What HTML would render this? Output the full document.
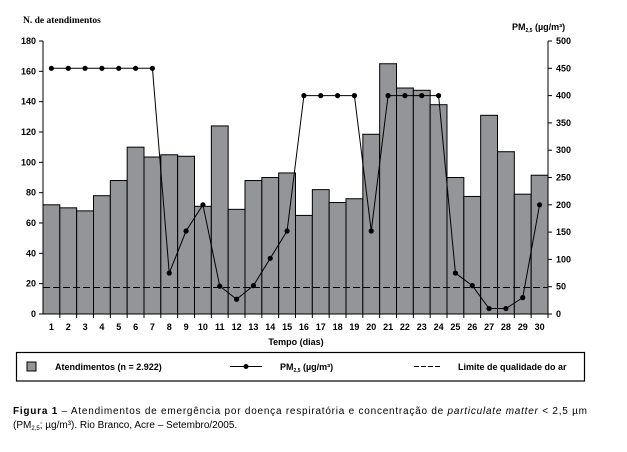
<!DOCTYPE html>
<html><head><meta charset="utf-8"><style>
body{margin:0;background:#fff;}
svg{display:block;font-family:"Liberation Sans",sans-serif;}
</style></head><body>
<svg width="627" height="452" viewBox="0 0 627 452" xmlns="http://www.w3.org/2000/svg">
<g id="bars" fill="#939598" stroke="#000" stroke-width="1"></g>
<g id="axes" stroke="#000" stroke-width="1" fill="none"></g>
<g id="txt" font-size="9" font-weight="bold" fill="#000"></g>
<line x1="43" y1="287.5" x2="548" y2="287.5" stroke="#000" stroke-width="1" stroke-dasharray="7,3"/>
<g id="pm"></g>
<text x="23" y="23" font-size="9.5" font-family="Liberation Serif,serif" font-weight="bold">N. de atendimentos</text>
<text x="512" y="30" font-size="9" font-weight="bold">PM<tspan font-size="5" dy="2">2,5</tspan><tspan dy="-2"> (µg/m³)</tspan></text>
<text x="296" y="345" font-size="9" font-weight="bold" text-anchor="middle">Tempo (dias)</text>
<rect x="16.5" y="352.5" width="568" height="28.5" fill="none" stroke="#000" stroke-width="1.2"/>
<rect x="27" y="362" width="9" height="9" fill="#939598" stroke="#000"/>
<text x="55" y="370" font-size="9" font-weight="bold">Atendimentos (n = 2.922)</text>
<line x1="230" y1="366.5" x2="262" y2="366.5" stroke="#000"/>
<circle cx="246" cy="366.5" r="2.5" fill="#000"/>
<text x="280" y="370" font-size="9" font-weight="bold">PM<tspan font-size="5" dy="2">2,5</tspan><tspan dy="-2"> (µg/m³)</tspan></text>
<line x1="414" y1="366.5" x2="440" y2="366.5" stroke="#000" stroke-dasharray="5,2"/>
<text x="458" y="370" font-size="9" font-weight="bold">Limite de qualidade do ar</text>
<text x="13" y="414" font-size="10" textLength="574" lengthAdjust="spacing"><tspan font-weight="bold">Figura 1</tspan> – Atendimentos de emergência por doença respiratória e concentração de <tspan font-style="italic">particulate matter</tspan> &lt; 2,5 µm</text>
<text x="13" y="428" font-size="10">(PM<tspan font-size="6" dy="2">2,5</tspan><tspan dy="-2">; µg/m³). Rio Branco, Acre – Setembro/2005.</tspan></text>
<script>
var ns="http://www.w3.org/2000/svg";
function el(p,t,a,tx){var e=document.createElementNS(ns,t);for(var k in a)e.setAttribute(k,a[k]);if(tx!=null)e.textContent=tx;document.getElementById(p).appendChild(e);return e;}
var v=[72,70,68,78,88,110,103.5,105,104,71,124,69,88,90,93,65,82,73.5,76,118.5,165,149,147.5,138,90,77.5,131,107,79,91.5];
var p=[450,450,450,450,450,450,450,75,152,200,51,27,52,102,152,400,400,400,400,152,400,400,400,400,75,52,10,10,30,200];
var x0=43,x1=548,w=(x1-x0)/30,yb=314,yt=41;
function yl(a){return yb-a*(yb-yt)/180;}function yr(a){return yb-a*(yb-yt)/500;}
for(var i=0;i<30;i++){el("bars","rect",{x:x0+i*w,y:yl(v[i]),width:w,height:yb-yl(v[i])});
el("txt","text",{x:x0+(i+0.5)*w,y:330,"text-anchor":"middle"},i+1);
el("axes","line",{x1:x0+(i+1)*w,y1:yb,x2:x0+(i+1)*w,y2:yb+4});}
el("axes","line",{x1:x0,y1:yt,x2:x0,y2:yb});el("axes","line",{x1:x1,y1:yt,x2:x1,y2:yb});
el("axes","line",{x1:x0-4,y1:yb,x2:x1+4,y2:yb});
for(var t=0;t<=180;t+=20){el("axes","line",{x1:x0-4,y1:yl(t),x2:x0,y2:yl(t)});el("txt","text",{x:x0-7,y:yl(t)+3,"text-anchor":"end"},t);}
for(var t=0;t<=500;t+=50){el("axes","line",{x1:x1,y1:yr(t),x2:x1+4,y2:yr(t)});el("txt","text",{x:x1+8,y:yr(t)+3},t);}
var pts=[];for(var i=0;i<30;i++)pts.push((x0+(i+0.5)*w)+","+yr(p[i]));
el("pm","polyline",{points:pts.join(" "),fill:"none",stroke:"#000","stroke-width":"1"});
for(var i=0;i<30;i++)el("pm","circle",{cx:x0+(i+0.5)*w,cy:yr(p[i]),r:2.6,fill:"#000"});
</script>
</svg>
</body></html>
